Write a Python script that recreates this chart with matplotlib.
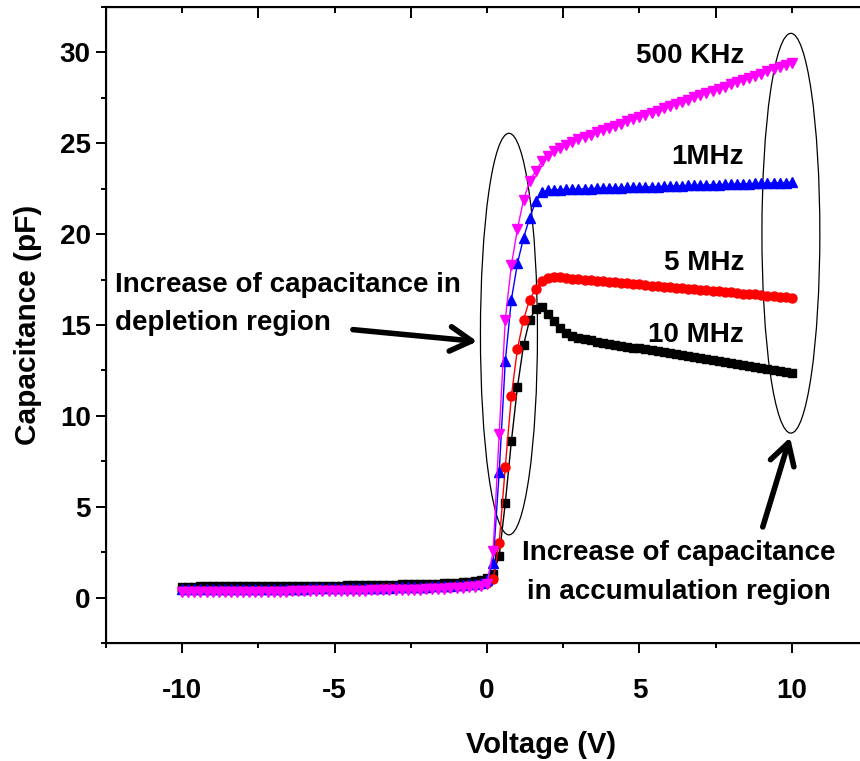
import matplotlib
matplotlib.use("Agg")
import matplotlib.pyplot as plt
from matplotlib.patches import Ellipse

plt.rcParams['font.family'] = ['Liberation Sans', 'DejaVu Sans']
plt.rcParams['font.weight'] = 'bold'
plt.rcParams['axes.unicode_minus'] = False

# Voltage sweep (V)
voltage = [
    -10.0, -9.8, -9.6, -9.4, -9.2, -9.0, -8.8, -8.6, -8.4, -8.2,
    -8.0, -7.8, -7.6, -7.4, -7.2, -7.0, -6.8, -6.6, -6.4, -6.2,
    -6.0, -5.8, -5.6, -5.4, -5.2, -5.0, -4.8, -4.6, -4.4, -4.2,
    -4.0, -3.8, -3.6, -3.4, -3.2, -3.0, -2.8, -2.6, -2.4, -2.2,
    -2.0, -1.8, -1.6, -1.4, -1.2, -1.0, -0.8, -0.6, -0.4, -0.2,
    0.0, 0.2, 0.4, 0.6, 0.8, 1.0, 1.2, 1.4, 1.6, 1.8,
    2.0, 2.2, 2.4, 2.6, 2.8, 3.0, 3.2, 3.4, 3.6, 3.8,
    4.0, 4.2, 4.4, 4.6, 4.8, 5.0, 5.2, 5.4, 5.6, 5.8,
    6.0, 6.2, 6.4, 6.6, 6.8, 7.0, 7.2, 7.4, 7.6, 7.8,
    8.0, 8.2, 8.4, 8.6, 8.8, 9.0, 9.2, 9.4, 9.6, 9.8, 10.0,
]

# Capacitance (pF) per frequency
cap_10mhz = [
    0.60, 0.60, 0.60, 0.61, 0.61, 0.61, 0.61, 0.61, 0.62, 0.62,
    0.62, 0.62, 0.62, 0.63, 0.63, 0.63, 0.63, 0.64, 0.64, 0.64,
    0.64, 0.65, 0.65, 0.65, 0.66, 0.66, 0.66, 0.67, 0.67, 0.68,
    0.68, 0.69, 0.69, 0.70, 0.70, 0.71, 0.72, 0.72, 0.73, 0.74,
    0.75, 0.76, 0.77, 0.78, 0.80, 0.82, 0.84, 0.87, 0.91, 0.96,
    1.05, 1.30, 2.30, 5.20, 8.60, 11.60, 13.90, 15.30, 15.90, 16.00,
    15.60, 15.20, 14.85, 14.55, 14.40, 14.30, 14.22, 14.15, 14.08, 14.02,
    13.96, 13.91, 13.86, 13.81, 13.76, 13.71, 13.66, 13.60, 13.55, 13.50,
    13.44, 13.39, 13.34, 13.28, 13.23, 13.18, 13.12, 13.07, 13.02, 12.96,
    12.91, 12.86, 12.80, 12.75, 12.70, 12.64, 12.59, 12.54, 12.48, 12.43, 12.38,
]
cap_5mhz = [
    0.40, 0.40, 0.40, 0.40, 0.41, 0.41, 0.41, 0.41, 0.41, 0.42,
    0.42, 0.42, 0.42, 0.42, 0.43, 0.43, 0.43, 0.43, 0.44, 0.44,
    0.44, 0.45, 0.45, 0.45, 0.46, 0.46, 0.46, 0.47, 0.47, 0.48,
    0.48, 0.49, 0.49, 0.50, 0.50, 0.51, 0.52, 0.52, 0.53, 0.54,
    0.55, 0.56, 0.57, 0.58, 0.60, 0.62, 0.64, 0.67, 0.70, 0.75,
    0.82, 1.00, 3.00, 7.20, 11.10, 13.70, 15.30, 16.40, 17.00, 17.40,
    17.60, 17.65, 17.62, 17.58, 17.55, 17.52, 17.49, 17.46, 17.43, 17.40,
    17.38, 17.35, 17.32, 17.29, 17.26, 17.23, 17.20, 17.17, 17.14, 17.11,
    17.08, 17.05, 17.03, 17.00, 16.97, 16.94, 16.91, 16.88, 16.85, 16.82,
    16.79, 16.76, 16.73, 16.70, 16.68, 16.65, 16.62, 16.59, 16.56, 16.53, 16.50,
]
cap_1mhz = [
    0.45, 0.45, 0.45, 0.45, 0.46, 0.46, 0.46, 0.46, 0.46, 0.47,
    0.47, 0.47, 0.47, 0.47, 0.48, 0.48, 0.48, 0.48, 0.49, 0.49,
    0.49, 0.50, 0.50, 0.50, 0.51, 0.51, 0.51, 0.52, 0.52, 0.53,
    0.53, 0.54, 0.54, 0.55, 0.55, 0.56, 0.57, 0.57, 0.58, 0.59,
    0.60, 0.61, 0.62, 0.63, 0.65, 0.67, 0.69, 0.72, 0.76, 0.82,
    0.95, 1.90, 6.90, 13.00, 16.40, 18.40, 19.80, 20.90, 21.80, 22.30,
    22.42, 22.44, 22.45, 22.46, 22.47, 22.48, 22.49, 22.51, 22.52, 22.53,
    22.54, 22.55, 22.56, 22.57, 22.58, 22.59, 22.60, 22.61, 22.62, 22.63,
    22.65, 22.66, 22.67, 22.68, 22.69, 22.70, 22.71, 22.72, 22.73, 22.74,
    22.75, 22.76, 22.77, 22.78, 22.79, 22.80, 22.81, 22.82, 22.83, 22.84, 22.85,
]
cap_500khz = [
    0.30, 0.30, 0.30, 0.30, 0.31, 0.31, 0.31, 0.31, 0.31, 0.32,
    0.32, 0.32, 0.32, 0.32, 0.33, 0.33, 0.33, 0.33, 0.34, 0.34,
    0.34, 0.35, 0.35, 0.35, 0.36, 0.36, 0.36, 0.37, 0.37, 0.38,
    0.38, 0.39, 0.39, 0.40, 0.40, 0.41, 0.42, 0.42, 0.43, 0.44,
    0.45, 0.46, 0.47, 0.48, 0.50, 0.52, 0.54, 0.57, 0.60, 0.65,
    0.75, 2.55, 9.00, 15.30, 18.30, 20.30, 21.90, 22.90, 23.50, 24.00,
    24.30, 24.55, 24.75, 24.92, 25.08, 25.22, 25.35, 25.48, 25.60, 25.72,
    25.84, 25.96, 26.08, 26.20, 26.32, 26.44, 26.56, 26.68, 26.80, 26.92,
    27.04, 27.16, 27.28, 27.40, 27.52, 27.64, 27.76, 27.88, 28.00, 28.12,
    28.24, 28.36, 28.48, 28.60, 28.72, 28.84, 28.96, 29.08, 29.20, 29.32, 29.44,
]

fig = plt.figure(figsize=(8.6, 7.61), dpi=100)
ax = fig.add_axes([106 / 860, 1 - 643 / 761, 762 / 860, 636 / 761])

ax.plot(voltage, cap_10mhz, color='black', marker='s', ms=6, lw=1)
ax.plot(voltage, cap_5mhz, color='red', marker='o', ms=6.5, lw=1)
ax.plot(voltage, cap_1mhz, color='blue', marker='^', ms=7.5, lw=1)
ax.plot(voltage, cap_500khz, color='magenta', marker='v', ms=7.5, lw=1)

ax.set_xlim(-12.5, 12.5)
ax.set_ylim(-2.5, 32.5)
ax.set_xticks([-10, -5, 0, 5, 10])
ax.set_xticks([-12.5, -7.5, -2.5, 2.5, 7.5, 12.5], minor=True)
ax.set_yticks([0, 5, 10, 15, 20, 25, 30])
ax.set_yticks([-2.5, 2.5, 7.5, 12.5, 17.5, 22.5, 27.5, 32.5], minor=True)
ax.tick_params(which='major', direction='out', length=7, width=1.4,
               labelsize=20, pad=4)
ax.tick_params(axis='x', which='major', pad=18)
ax.tick_params(which='minor', direction='out', length=3.5, width=1.4)
for s in ax.spines.values():
    s.set_linewidth(1.5)

# top mirror axis
top = ax.twiny()
top.set_xlim(ax.get_xlim())
top.set_xticks([-7.5, -2.5, 2.5, 7.5])
top.set_xticks([-10, -5, 0, 5, 10], minor=True)
top.tick_params(which='major', direction='in', length=8, width=1.4, labeltop=False)
top.tick_params(which='minor', direction='in', length=4, width=1.4)

# right mirror axis
right = ax.twinx()
right.set_ylim(ax.get_ylim())
right.set_yticks([4.5, 11.5, 18.5, 25.5])
right.tick_params(direction='in', length=5, width=1.4, labelright=False)

fs = 20
ax.text(8.43, 29.78, '500 KHz', ha='right', va='center', fontsize=fs)
ax.text(8.43, 24.23, '1MHz', ha='right', va='center', fontsize=fs)
ax.text(8.43, 18.4, '5 MHz', ha='right', va='center', fontsize=fs)
ax.text(8.43, 14.45, '10 MHz', ha='right', va='center', fontsize=fs)

ax.text(-12.2, 17.2, 'Increase of capacitance in', ha='left', va='center', fontsize=fs)
ax.text(-12.2, 15.1, 'depletion region', ha='left', va='center', fontsize=fs)
ax.text(6.3, 2.47, 'Increase of capacitance', ha='center', va='center', fontsize=fs)
ax.text(6.3, 0.33, 'in accumulation region', ha='center', va='center', fontsize=fs)

ax.add_patch(Ellipse((0.72, 14.5), 1.87, 22.1, fill=False, lw=0.9, color='black'))
ax.add_patch(Ellipse((9.97, 20.05), 1.9, 22.0, fill=False, lw=0.9, color='black'))

arrow = dict(arrowstyle='->,head_length=0.7,head_width=0.4', lw=4,
             color='black', mutation_scale=22)
ax.annotate('', xy=(-0.23, 14.08), xytext=(-4.49, 14.76), arrowprops=arrow)
ax.annotate('', xy=(9.97, 8.96), xytext=(9.02, 3.74), arrowprops=arrow)

fig.text(541 / 860, 1 - 745 / 761, 'Voltage (V)', ha='center', va='center', fontsize=21)
fig.text(28 / 860, 1 - 325 / 761, 'Capacitance (pF)', ha='center', va='center',
         rotation=90, fontsize=21.5)

fig.savefig('out.png', dpi=100)
